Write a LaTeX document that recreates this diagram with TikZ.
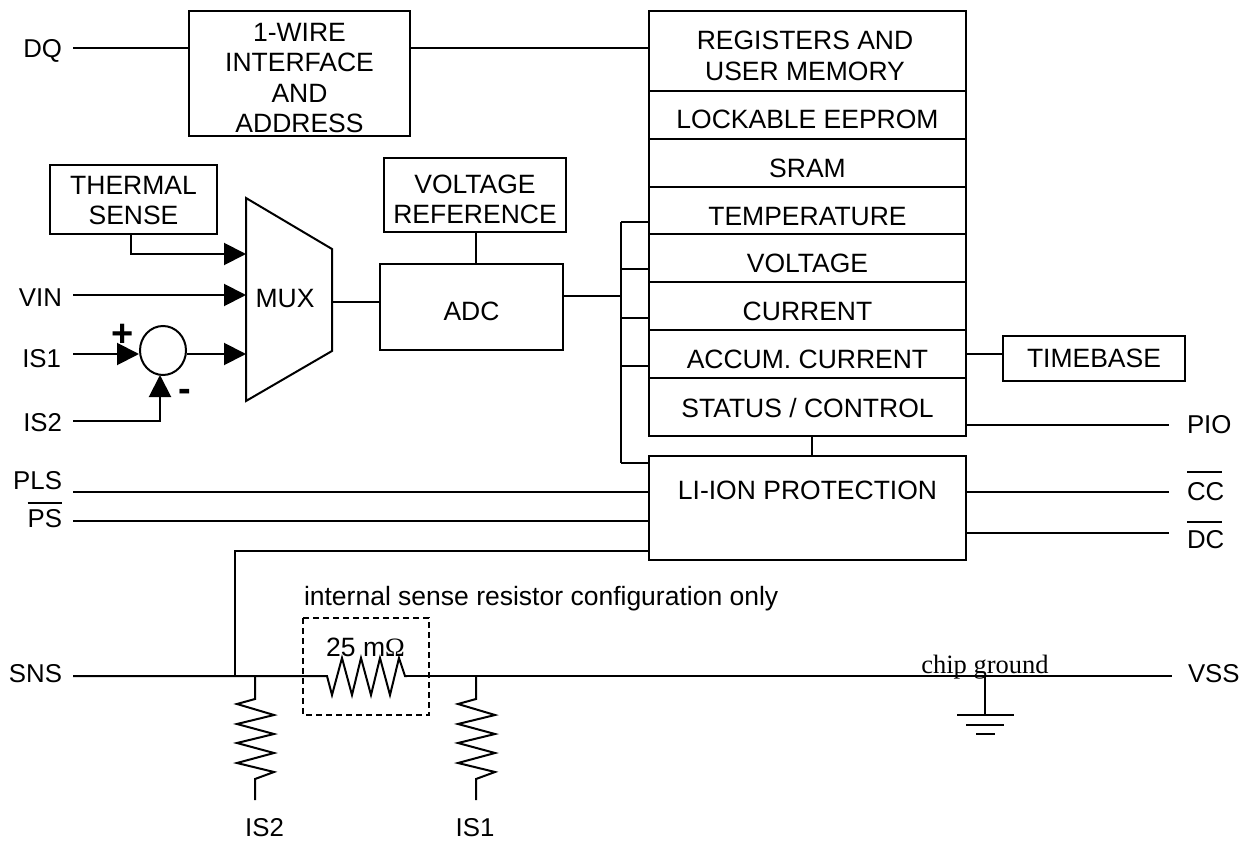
\documentclass[tikz,border=0pt]{standalone}
\usepackage{fontspec}
\setmainfont{Liberation Sans}
\newfontfamily\serifchip{Liberation Serif}
\usetikzlibrary{arrows.meta,shapes.geometric}
\newcommand{\barred}[3]{\rlap{\rule[#1]{#2}{1.8pt}}#3}

\begin{document}
\begin{tikzpicture}[x=1pt,y=-1pt,line width=2pt,
  every node/.style={font=\fontsize{26.5}{30.5}\selectfont,inner sep=0pt},
  blockbox/.style={draw,align=center},
  drop/.style={execute at begin node={\rule{0pt}{#1}}},
  lift/.style={execute at begin node={\rule[-#1]{0pt}{0pt}}},
  membox/.style={blockbox,minimum width=317pt,minimum height=48pt},
  lines/.style={align=center,yshift=-#1},
  pintext/.style={font=\fontsize{25.8}{30}\selectfont},
  pinleft/.style={pintext,anchor=base east},
  pinright/.style={pintext,anchor=base west},
  signs/.style={font=\bfseries\fontsize{38}{38}\selectfont},
  fwd/.style={-{Triangle[length=22pt,width=22pt]}}]
\useasboundingbox (0,0) rectangle (1258,842);
\path node (wire) at (299.5,73.5) [blockbox,minimum width=221pt,minimum height=125pt,label={[lines=4.5pt]center:{1-WIRE\\INTERFACE\\AND\\ADDRESS}}] {}
node (therm) at (133.5,199.5) [blockbox,minimum width=167pt,minimum height=69pt,label={[lines=1pt]center:{THERMAL\\SENSE}}] {}
node (vref) at (475,195) [blockbox,minimum width=182pt,minimum height=74pt,label={[lines=4.5pt]center:{VOLTAGE\\REFERENCE}}] {}
node (adc) at (471.5,307) [blockbox,minimum width=183pt,minimum height=86pt,drop=27pt] {ADC}
node (regs) at (807.5,51) [membox,minimum height=80pt,label={[lines=5pt,xshift=-2.5pt]center:{REGISTERS AND\\USER MEMORY}}] {}
node (eeprom) at (807.5,115) [membox,drop=28pt] {LOCKABLE EEPROM}
node (sram) at (807.5,163) [membox,drop=30pt] {SRAM}
node (temp) at (807.5,210.5) [membox,minimum height=47pt,drop=31pt] {TEMPERATURE}
node (volt) at (807.5,258) [membox,drop=30pt] {VOLTAGE}
node (curr) at (807.5,306) [membox,drop=30pt] {CURRENT}
node (accu) at (807.5,354) [membox,drop=30pt] {ACCUM. CURRENT}
node (stat) at (807.5,407) [membox,minimum height=58pt,drop=21pt] {STATUS / CONTROL}
node (lion) at (807.5,508) [membox,minimum height=104pt,lift=36pt] {LI-ION PROTECTION}
node (tbase) at (1094,358.5) [blockbox,minimum width=182pt,minimum height=45pt] {TIMEBASE}
node (sum) at (163,350.5) [ellipse,draw,minimum width=46pt,minimum height=49pt] {}
node (mux) at (285,299) {MUX};
\path node (dq) at (63,57.5) [pinleft] {DQ}
node (vin) at (63,307) [pinleft] {VIN}
node (isa) at (62,367) [pinleft] {IS1}
node (isb) at (63,431) [pinleft] {IS2}
node (pls) at (63,489) [pinleft] {PLS}
node (ps) at (63,527) [pinleft] {\barred{23pt}{34pt}{PS}}
node (sns) at (63,682) [pinleft] {SNS}
node (pio) at (1186,433) [pinright] {PIO}
node (cc) at (1186,500) [pinright] {\barred{27pt}{35pt}{CC}}
node (dc) at (1186,548) [pinright] {\barred{25pt}{35pt}{DC}}
node (vss) at (1187,682) [pinright] {VSS}
node (rbot) at (264.5,836) [pintext,anchor=base] {IS2}
node (rtop) at (475,836) [pintext,anchor=base] {IS1}
node (plus) at (123,346.5) [anchor=base,signs] {+}
node (minus) at (185,401.5) [anchor=base,signs] {-}
node (note) at (303,605) [anchor=base west] {internal sense resistor configuration only}
node (rval) at (365.5,656) [anchor=base] {25 m{\serifchip Ω}}
node (chip) at (985,673) [anchor=base,font=\serifchip\fontsize{26.5}{26.5}\selectfont] {chip ground};
\coordinate (muxa) at (246,198);
\coordinate (muxb) at (332,249);
\coordinate (muxc) at (332,351);
\coordinate (muxd) at (246,401);
\coordinate (muxout) at (332,302);
\coordinate (bus) at (621,296);
\coordinate (dqend) at (73,48);
\coordinate (vinend) at (73,295);
\coordinate (isaend) at (73,354);
\coordinate (isbend) at (73,421);
\coordinate (sumin) at (160,375);
\coordinate (plsend) at (73,492);
\coordinate (psend) at (73,521);
\coordinate (snsend) at (73,676);
\coordinate (vssend) at (1172,676);
\coordinate (pioend) at (1169,425);
\coordinate (ccend) at (1169,492);
\coordinate (dcend) at (1169,533);
\coordinate (thermout) at (131,234);
\coordinate (tap) at (235,676);
\coordinate (gnd) at (985,715);
\coordinate (ra) at (327,676);
\coordinate (rb) at (407,676);
\coordinate (boxa) at (303,618);
\coordinate (boxb) at (429,715);
\draw (muxa) -- (muxb) -- (muxc) -- (muxd) -- cycle;
\draw (dqend) -- (wire.west |- dqend);
\draw (wire.east |- dqend) -- (regs.west |- dqend);
\draw[fwd] (thermout) |- (muxa |- 0,254);
\draw[fwd] (vinend) -- (muxa |- vinend);
\draw[fwd] (isaend) -- (sum.west |- isaend);
\draw[fwd] (sum.east |- isaend) -- (muxa |- isaend);
\draw[fwd] (isbend) -| (sumin);
\draw (muxout) -- (adc.west |- muxout);
\draw (vref.south -| 476,0) -- (adc.north -| 476,0);
\draw (adc.east |- bus) -- (bus);
\draw ([yshift=-11.5pt]temp.west -| bus) -- ([yshift=-8pt]lion.north west -| bus);
\foreach \n in {temp,volt,curr,accu} \draw ([yshift=-11.5pt]\n.west -| bus) -- ([yshift=-11.5pt]\n.west);
\draw ([yshift=-8pt]lion.north west -| bus) -- ([yshift=-8pt]lion.north west);
\draw (stat.south -| 812,0) -- (lion.north -| 812,0);
\draw (accu.east) -- (tbase.west |- accu);
\draw (stat.east |- pioend) -- (pioend);
\draw (plsend) -- (lion.west |- plsend);
\draw (psend) -- (lion.west |- psend);
\draw (tap) |- (lion.west |- 0,551);
\draw (lion.east |- ccend) -- (ccend);
\draw (lion.east |- dcend) -- (dcend);
\draw (snsend) -- (ra) -- ++(5,19) -- ++(10,-37) -- ++(10,37) -- ++(9,-37) -- ++(10,37) -- ++(9,-37) -- ++(10,37) -- ++(9,-37) -- ++(6,18) -- (rb);
\draw (rb) -- (vssend);
\foreach \x in {255,476} \draw (\x,676) -- ++(0,23) -- ++(-18,5) -- ++(37,11) -- ++(-37,9) -- ++(37,10) -- ++(-37,9) -- ++(37,10) -- ++(-37,10) -- ++(37,9) -- ++(-19,7) -- ++(0,21);
\draw[line width=1.5pt,dash pattern=on 6pt off 4pt] (boxa) rectangle (boxb);
\draw (gnd |- vssend) -- (gnd);
\draw ([xshift=-28pt]gnd) -- ([xshift=29pt]gnd);
\draw ([xshift=-19pt,yshift=-10pt]gnd) -- ([xshift=19pt,yshift=-10pt]gnd);
\draw ([xshift=-9pt,yshift=-19pt]gnd) -- ([xshift=10pt,yshift=-19pt]gnd);
\end{tikzpicture}
\end{document}
